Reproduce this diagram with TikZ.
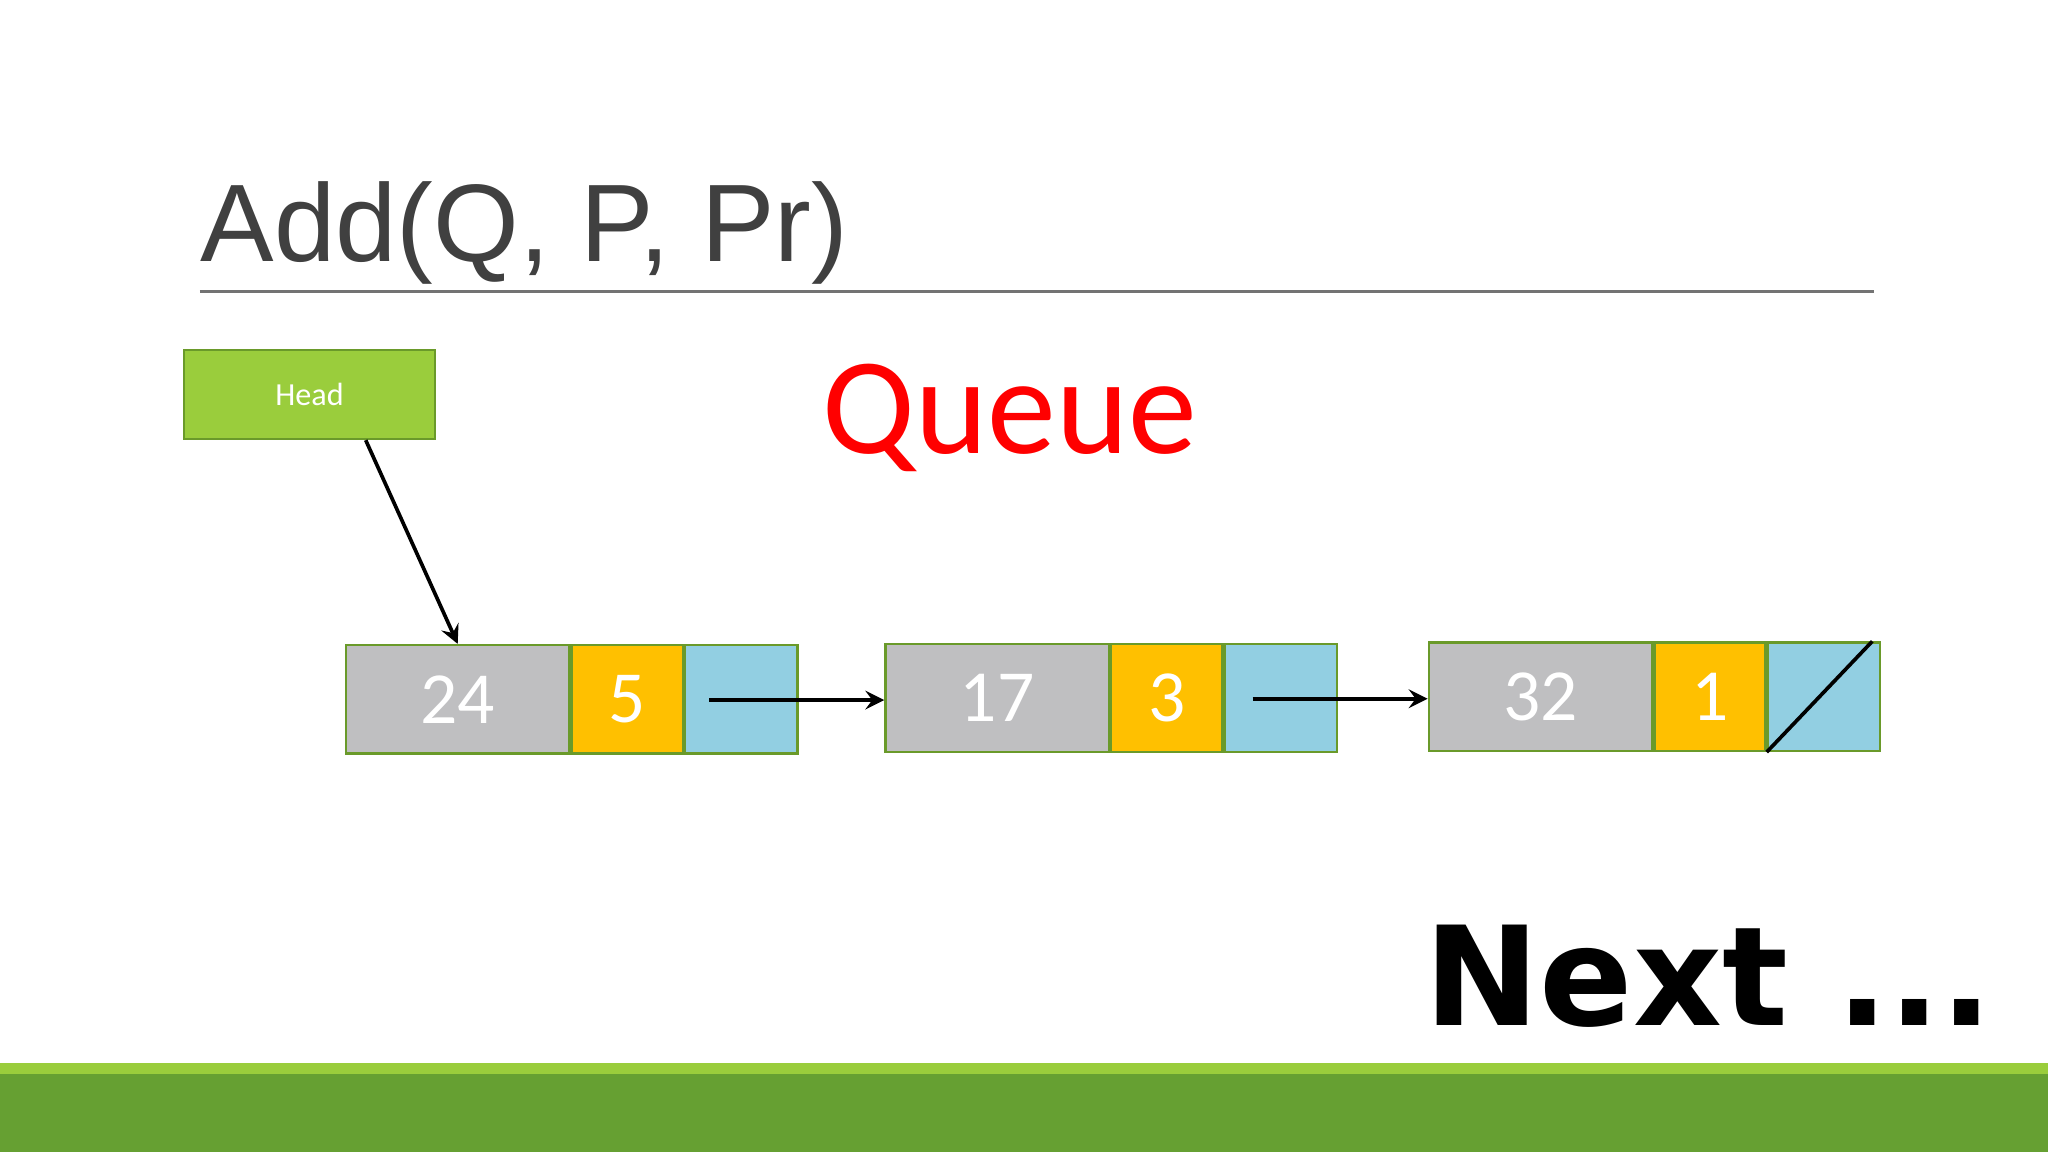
\documentclass[tikz,border=0pt]{standalone}
\usepackage{fontspec}
\setmainfont{Carlito}
\newfontfamily\titlefont{Liberation Sans}
\newfontfamily\nextfont{DejaVu Sans}
\usetikzlibrary{positioning}
\definecolor{headgreen}{HTML}{9ACD3C}
\definecolor{edgegreen}{HTML}{6A9A2A}
\definecolor{cellgray}{HTML}{BFBFC1}
\definecolor{cellyellow}{HTML}{FFC000}
\definecolor{cellblue}{HTML}{92CFE2}
\definecolor{bardark}{HTML}{66A032}
\tikzset{
  cell/.style={rectangle, draw=edgegreen, line width=0.5pt, inner sep=0pt, minimum height=0.83cm, text=white, font=\fontsize{16}{18}\selectfont},
  datacell/.style={cell, fill=cellgray, minimum width=1.71cm},
  prcell/.style={cell, fill=cellyellow, minimum width=0.85cm},
  linkcell/.style={cell, fill=cellblue, minimum width=0.86cm},
  arrow/.style={thick,->,>=stealth}
}
\begin{document}
\begin{tikzpicture}[x=0.01cm,y=-0.01cm]
\useasboundingbox (0,0) rectangle (1568,882);
\fill[white] (0,0) rectangle (1568,882);
% bottom bars
\fill[headgreen] (0,814) rectangle (1568,822);
\fill[bardark] (0,822) rectangle (1568,882);
% title
\node (title) [anchor=base west, inner sep=0pt, text=black!75, font=\titlefont\fontsize{24}{28}\selectfont] at (153,200) {Add(Q, P, Pr)};
\draw[black!55, line width=0.6pt] (153,223) -- (1435,223);
\node (queue) [text=red, font=\fontsize{30}{34}\selectfont] at (773,320) {Queue};
% head
\node (head) [rectangle, draw=edgegreen, fill=headgreen, text=white, minimum width=1.92cm, minimum height=0.68cm, font=\fontsize{7}{8}\selectfont] at (237,302) {Head};
% list nodes
\node (d1) [datacell, anchor=north west] at (264,493) {24};
\node (p1) [prcell, right=0pt of d1] {5};
\node (l1) [linkcell, right=0pt of p1] {};
\node (d2) [datacell, anchor=north west] at (677,492) {17};
\node (p2) [prcell, right=0pt of d2] {3};
\node (l2) [linkcell, right=0pt of p2] {};
\node (d3) [datacell, anchor=north west] at (1093,491) {32};
\node (p3) [prcell, right=0pt of d3] {1};
\node (l3) [linkcell, right=0pt of p3] {};
% links
\coordinate (h1) at (280,337);
\coordinate (n1) at (543,536);
\coordinate (n2) at (959,535);
\draw [arrow] (h1) -- (d1.north);
\draw [arrow] (n1) -- (d2.west |- n1);
\draw [arrow] (n2) -- (d3.west |- n2);
\draw [thick] (l3.south west) -- ([xshift=-0.07cm]l3.north east);
% next
\node (next) [anchor=base west, inner sep=0pt, font=\nextfont\bfseries\fontsize{30}{34}\selectfont] at (1090,785) {Next ...};
\end{tikzpicture}
\end{document}
